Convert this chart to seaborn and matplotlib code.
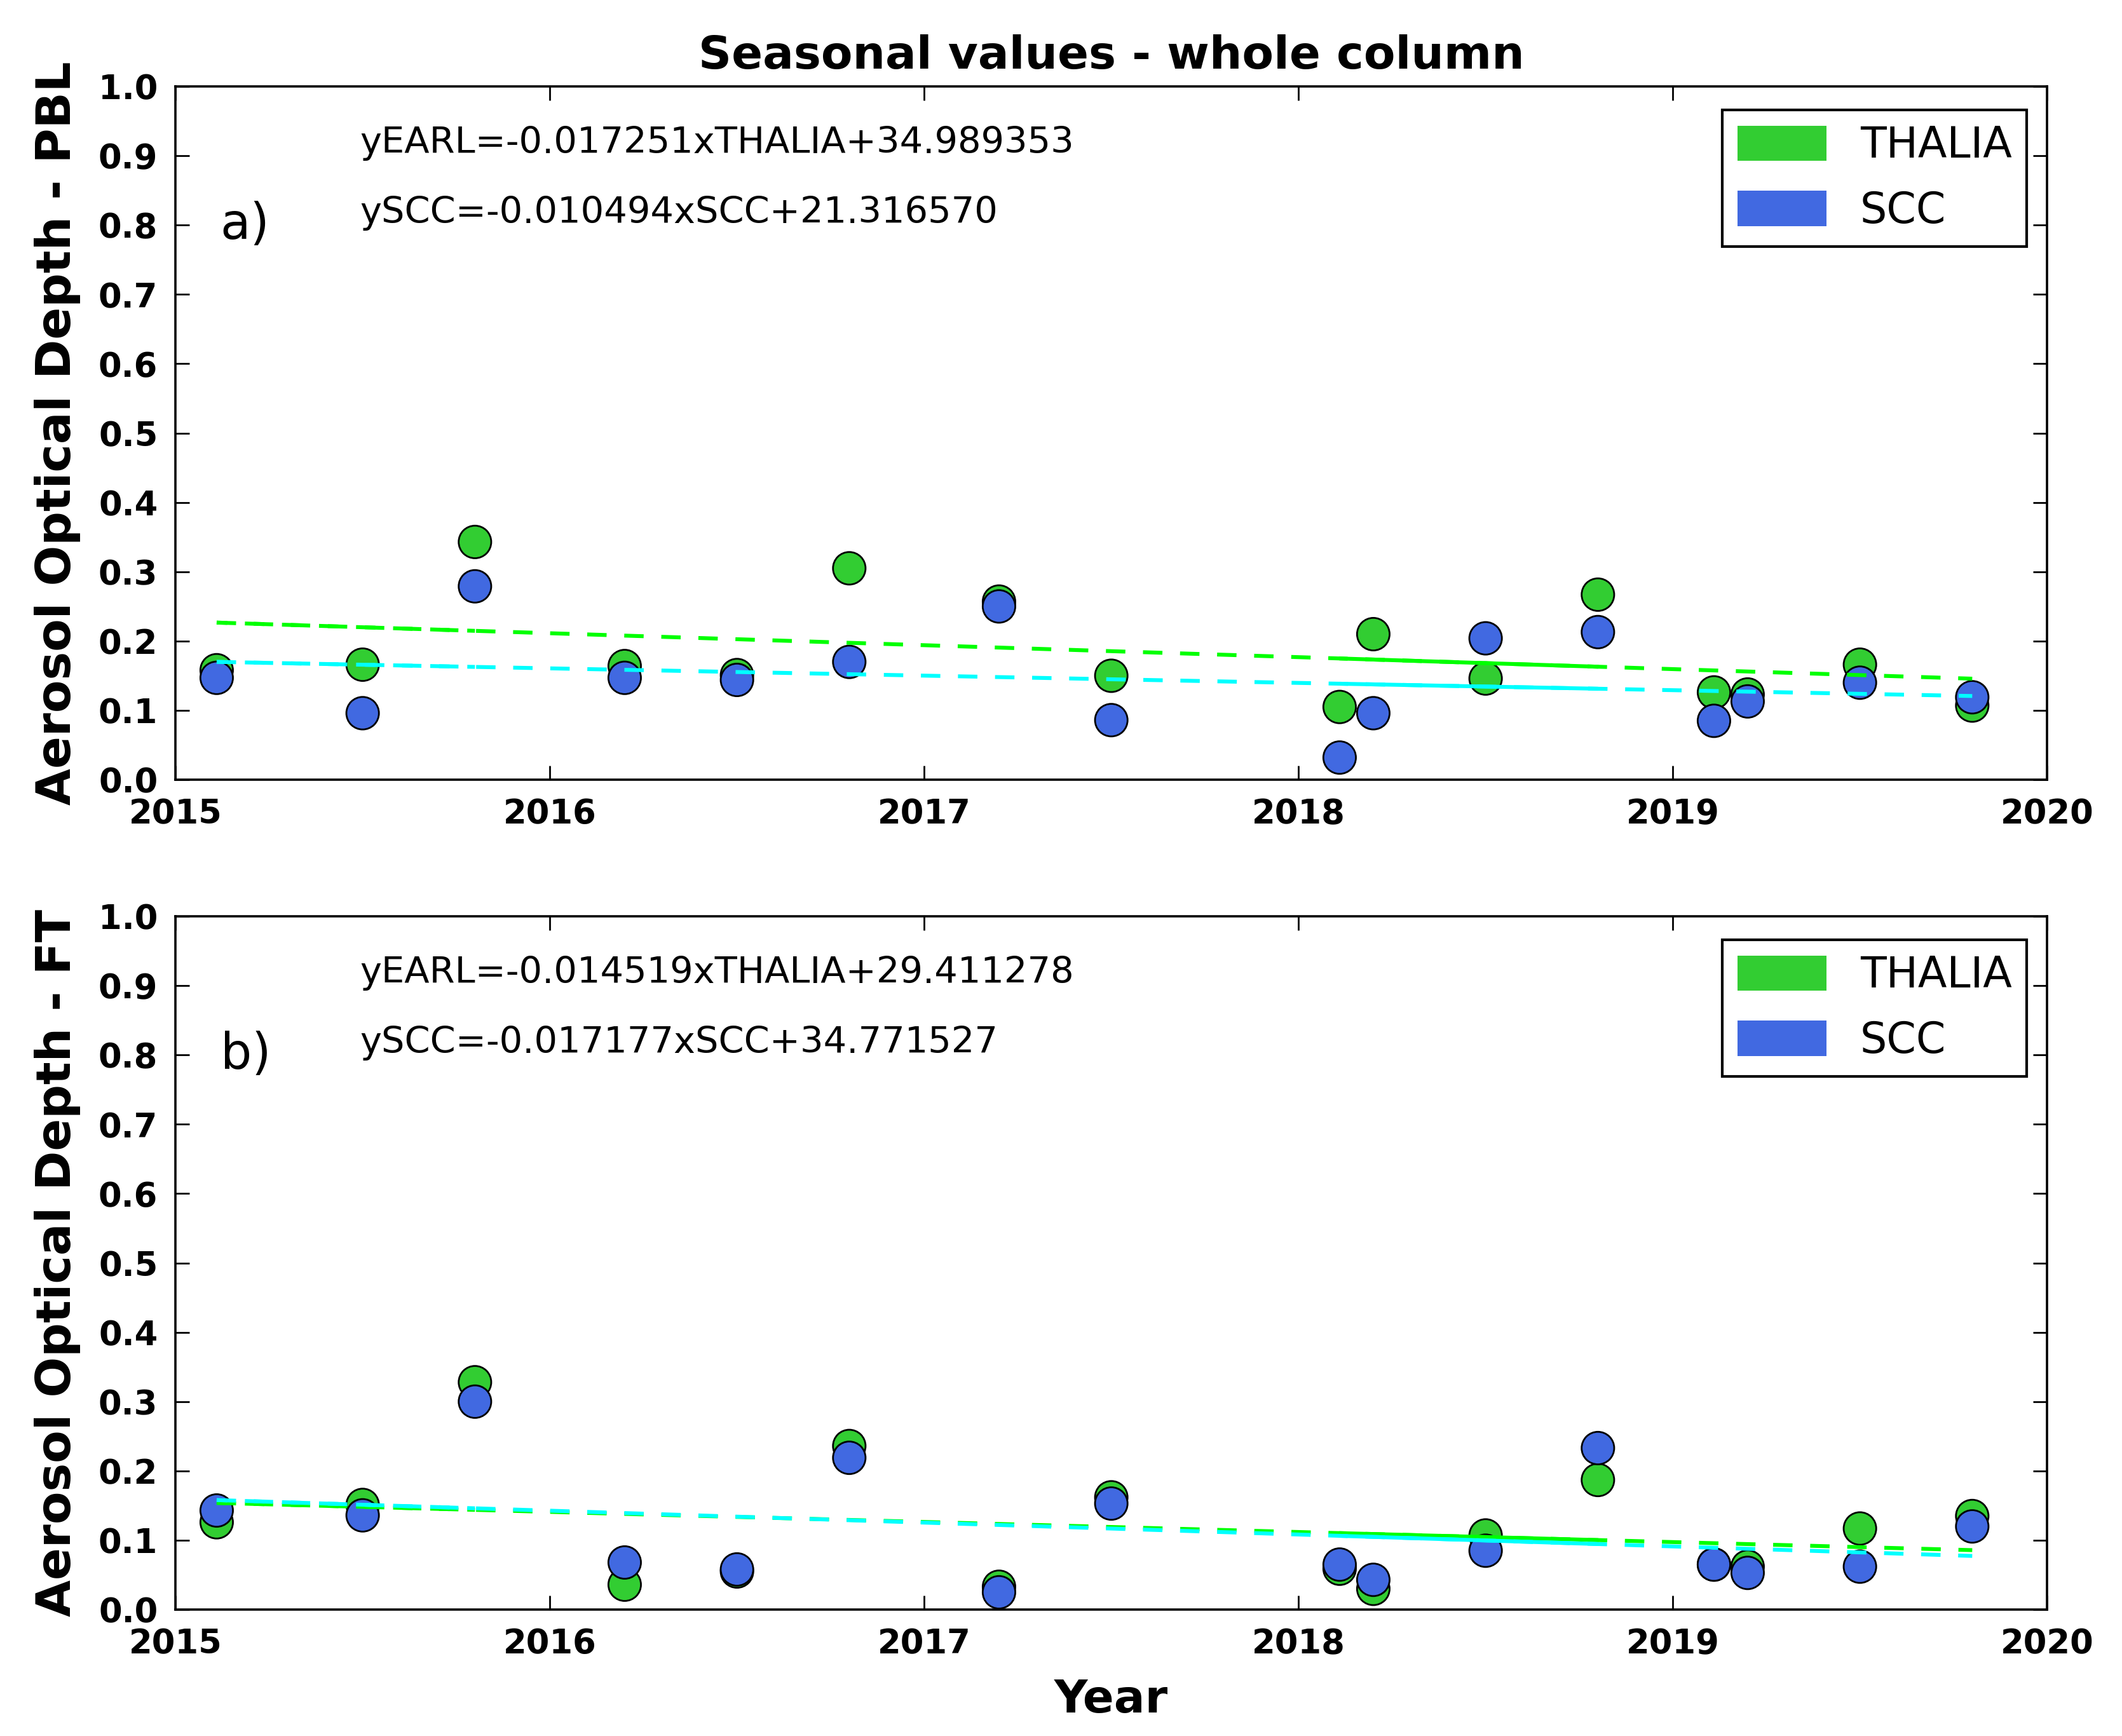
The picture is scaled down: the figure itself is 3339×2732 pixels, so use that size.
import numpy as np
import pandas as pd
import matplotlib
matplotlib.use("Agg")
import matplotlib.pyplot as plt
import seaborn as sns
from matplotlib.patches import Patch

# %%--  Data
seasons = [2015.11, 2015.50, 2015.80, 2016.20, 2016.50, 2016.80, 2017.20, 2017.50,
           2018.11, 2018.20, 2018.50, 2018.80, 2019.11, 2019.20, 2019.50, 2019.80]

pbl_thalia = [0.158, 0.166, 0.343, 0.164, 0.151, 0.305, 0.257, 0.150,
              0.105, 0.210, 0.146, 0.267, 0.126, 0.123, 0.166, 0.107]
pbl_scc = [0.147, 0.096, 0.279, 0.147, 0.144, 0.170, 0.250, 0.086,
           0.032, 0.096, 0.204, 0.213, 0.085, 0.113, 0.140, 0.119]

ft_thalia = [0.126, 0.151, 0.328, 0.036, 0.055, 0.236, 0.033, 0.162,
             0.059, 0.030, 0.107, 0.187, 0.065, 0.062, 0.117, 0.135]
ft_scc = [0.143, 0.136, 0.300, 0.068, 0.058, 0.219, 0.025, 0.153,
          0.065, 0.043, 0.085, 0.233, 0.065, 0.053, 0.062, 0.120]

# linear fits (slope, intercept) as printed on the figure
pbl_fit_thalia = (-0.017251, 34.989353)
pbl_fit_scc = (-0.010494, 21.316570)
ft_fit_thalia = (-0.014519, 29.411278)
ft_fit_scc = (-0.017177, 34.771527)

year_ticks = [2015, 2016, 2017, 2018, 2019, 2020]
aod_ticks = [0.0, 0.1, 0.2, 0.3, 0.4, 0.5, 0.6, 0.7, 0.8, 0.9, 1.0]
# %%-

# %%--  Style
sns.set_style("ticks")
plt.rcParams['font.family'] = ['DejaVu Sans']
plt.rcParams['text.color'] = 'black'
plt.rcParams['axes.labelcolor'] = 'black'
plt.rcParams['xtick.color'] = 'black'
plt.rcParams['ytick.color'] = 'black'
plt.rcParams['axes.edgecolor'] = 'black'
plt.rcParams['xtick.direction'] = 'in'
plt.rcParams['ytick.direction'] = 'in'
plt.rcParams['xtick.top'] = True
plt.rcParams['ytick.right'] = True
plt.rcParams['lines.scale_dashes'] = False

C_THALIA = '#32CD32'
C_SCC = '#4169E1'
L_THALIA = '#00FF00'
L_SCC = '#00FFFF'
DASH = (0, (11, 10))
DASH_OFF = (5, (11, 10))
# %%-

# %%--  Plot
fig, axes = plt.subplots(2, 1, figsize=(16.695, 13.66), dpi=200)
fig.subplots_adjust(left=0.0827, right=0.9647, top=0.9502, bottom=0.0728, hspace=0.197)

panels = [
    (axes[0], pbl_thalia, pbl_scc, pbl_fit_thalia, pbl_fit_scc, 'a)', 'Aerosol Optical Depth - PBL'),
    (axes[1], ft_thalia, ft_scc, ft_fit_thalia, ft_fit_scc, 'b)', 'Aerosol Optical Depth - FT'),
]

x = np.array(seasons)
for ax, thalia, scc, fit_t, fit_s, tag, ylab in panels:
    df = pd.DataFrame({
        'Year': seasons + seasons,
        'AOD': thalia + scc,
        'Source': ['THALIA'] * len(seasons) + ['SCC'] * len(seasons),
    })
    sns.scatterplot(data=df, x='Year', y='AOD', hue='Source',
                    palette={'THALIA': C_THALIA, 'SCC': C_SCC},
                    s=340, edgecolor='black', linewidth=1.0,
                    legend=False, ax=ax, zorder=2)

    #   Trend lines (plus overlapping pieces as in the original)
    for (m, b), col in [(fit_t, L_THALIA), (fit_s, L_SCC)]:
        yfit = m * x + b
        sns.lineplot(x=x, y=yfit, color=col, lw=2.2, linestyle=DASH, ax=ax, zorder=3)
        sns.lineplot(x=x[0:3], y=yfit[0:3], color=col, lw=2.2, linestyle=DASH_OFF, ax=ax, zorder=3)
        sns.lineplot(x=x[8:12], y=yfit[8:12], color=col, lw=2.2, linestyle='-', ax=ax, zorder=3)

    ax.set_xlim(2015, 2020)
    ax.set_ylim(0, 1.0)
    ax.set_xticks(year_ticks)
    ax.set_xticklabels([str(t) for t in year_ticks], fontweight='bold')
    ax.set_yticks(aod_ticks)
    ax.set_yticklabels(['%.1f' % t for t in aod_ticks], fontweight='bold')
    ax.tick_params(labelsize=19, length=8, width=1, color='black', pad=10)
    for sp in ax.spines.values():
        sp.set_linewidth(1.3)
        sp.set_color('black')

    ax.set_ylabel(ylab, fontsize=27, fontweight='bold', labelpad=10)
    ax.set_xlabel('')

    eq1 = 'yEARL=%.6fxTHALIA+%.6f' % fit_t
    eq2 = 'ySCC=%.6fxSCC+%.6f' % fit_s
    ax.text(0.0985, 0.918, eq1, transform=ax.transAxes, fontsize=20.7, va='center')
    ax.text(0.0985, 0.817, eq2, transform=ax.transAxes, fontsize=20.7, va='center')
    ax.text(0.024, 0.80, tag, transform=ax.transAxes, fontsize=28, va='center')

    handles = [Patch(facecolor=C_THALIA, edgecolor='none', label='THALIA'),
               Patch(facecolor=C_SCC, edgecolor='none', label='SCC')]
    leg = ax.legend(handles=handles, loc='upper right', bbox_to_anchor=(0.9892, 0.966),
                    borderaxespad=0, fontsize=24, frameon=True, fancybox=False,
                    edgecolor='black', framealpha=1, handlelength=2.1, handleheight=0.9,
                    labelspacing=0.55, borderpad=0.35, handletextpad=0.8)
    leg.get_frame().set_linewidth(1.5)

axes[0].set_title('Seasonal values - whole column', fontsize=26, fontweight='bold', pad=10)
axes[1].set_xlabel('Year', fontsize=26, fontweight='bold', labelpad=10)

fig.savefig('out.png', dpi=200)
# %%-
